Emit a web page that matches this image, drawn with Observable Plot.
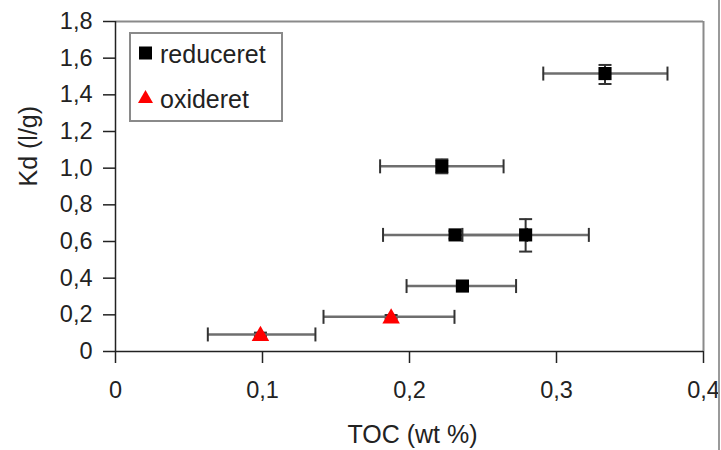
<!DOCTYPE html>
<html>
<head>
<meta charset="utf-8">
<script src="https://cdn.jsdelivr.net/npm/d3@7"></script>
<script src="https://cdn.jsdelivr.net/npm/@observablehq/plot@0.6"></script>
<style>
  body { margin: 0; background: #fff; }
  #wrap { position: relative; width: 721px; height: 450px; overflow: hidden; font-family: "Liberation Sans", Arial, sans-serif; }
  #edge { position: absolute; left: 718px; top: 0; width: 2px; height: 450px; background: #9a9a9a; }
  #legend { position: absolute; left: 129px; top: 32px; width: 150px; height: 86px; border: 2px solid #8a8a8a; background: #fff; }
  .lrow { position: absolute; left: 0; height: 30px; width: 150px; }
  .lrow svg { position: absolute; left: 5px; top: 0; }
  .lrow span { position: absolute; left: 29px; top: 1px; font-size: 25px; line-height: 28px; color: #222; }
</style>
</head>
<body>
<div id="wrap"></div>
<script>
// ---- data ----
const seriesNames = ["reduceret", "oxideret"];
const seriesColors = ["#000000", "#ff0000"];

// reduceret
const redX    = [0.333, 0.222, 0.231, 0.279, 0.236];
const redXmin = [0.291, 0.180, 0.182, 0.236, 0.198];
const redXmax = [0.3755, 0.264, 0.280, 0.322, 0.2725];
const redY    = [1.516, 1.010, 0.636, 0.636, 0.357];
const redYmin = [1.459, 0.972, 0.616, 0.545, 0.347];
const redYmax = [1.563, 1.048, 0.656, 0.722, 0.367];

// oxideret
const oxX    = [0.0986, 0.1875];
const oxXmin = [0.0628, 0.1415];
const oxXmax = [0.136, 0.2306];
const oxY    = [0.093, 0.189];
const oxYmin = [0.083, 0.179];
const oxYmax = [0.103, 0.199];

const xTicks = [0, 0.1, 0.2, 0.3, 0.4];
const yTicks = [0, 0.2, 0.4, 0.6, 0.8, 1.0, 1.2, 1.4, 1.6, 1.8];
const xTitle = "TOC (wt %)";
const yTitle = "Kd (l/g)";

// ---- build tables ----
const red = redX.map((x, i) => ({x, xmin: redXmin[i], xmax: redXmax[i], y: redY[i], ymin: redYmin[i], ymax: redYmax[i]}));
const ox = oxX.map((x, i) => ({x, xmin: oxXmin[i], xmax: oxXmax[i], y: oxY[i], ymin: oxYmin[i], ymax: oxYmax[i]}));
const all = red.concat(ox);

const fmt = d => d === 0 ? "0" : d.toFixed(1).replace(".", ",");

const capV = {draw(c) { c.moveTo(0, -7); c.lineTo(0, 7); }};
const capH = {draw(c) { c.moveTo(-6.5, 0); c.lineTo(6.5, 0); }};

const chart = Plot.plot({
  width: 721,
  height: 450,
  marginLeft: 115,
  marginRight: 18,
  marginTop: 21,
  marginBottom: 99,
  style: {fontFamily: "Liberation Sans, Arial, sans-serif", color: "#222", background: "white"},
  x: {domain: [0, 0.4]},
  y: {domain: [0, 1.8]},
  marks: [
    // frame top and right (gray)
    Plot.ruleY([1.8], {stroke: "#8a8a8a", strokeWidth: 2}),
    Plot.ruleX([0.4], {y1: 0, y2: 1.8, stroke: "#8a8a8a", strokeWidth: 2}),
    // axes
    Plot.axisX({ticks: xTicks, tickFormat: fmt, tickSize: 12, tickPadding: 18, fontSize: 23.5, label: null, stroke: "#222", strokeWidth: 1.5}),
    Plot.axisY({ticks: yTicks, tickFormat: fmt, tickSize: 12, tickPadding: 11, fontSize: 23.5, label: null, stroke: "#222", strokeWidth: 1.5}),
    Plot.ruleX([0], {stroke: "#222", strokeWidth: 1.5}),
    Plot.ruleY([0], {stroke: "#222", strokeWidth: 1.5}),
    // axis titles
    Plot.text([xTitle], {frameAnchor: "bottom", dy: 91, dx: 3, fontSize: 25, fill: "#222"}),
    Plot.text([yTitle], {frameAnchor: "left", rotate: -90, dx: -87, fontSize: 25, fill: "#222"}),
    // horizontal error bars
    Plot.ruleY(all, {y: "y", x1: "xmin", x2: "xmax", stroke: "#6e6e6e", strokeWidth: 2.5}),
    Plot.dot(all, {x: "xmin", y: "y", symbol: capV, stroke: "#333", strokeWidth: 2, fill: "none"}),
    Plot.dot(all, {x: "xmax", y: "y", symbol: capV, stroke: "#333", strokeWidth: 2, fill: "none"}),
    // vertical error bars
    Plot.ruleX(all, {x: "x", y1: "ymin", y2: "ymax", stroke: "#333", strokeWidth: 2}),
    Plot.dot(all, {x: "x", y: "ymin", symbol: capH, stroke: "#333", strokeWidth: 2, fill: "none"}),
    Plot.dot(all, {x: "x", y: "ymax", symbol: capH, stroke: "#333", strokeWidth: 2, fill: "none"}),
    // markers
    Plot.dot(red, {x: "x", y: "y", symbol: "square", r: 7.4, fill: seriesColors[0], stroke: "none"}),
    Plot.dot(ox, {x: "x", y: "y", symbol: "triangle", r: 6.5, dy: 1.5, fill: seriesColors[1], stroke: "none"})
  ]
});

const wrap = document.getElementById("wrap");
wrap.appendChild(chart);

// legend
const legend = document.createElement("div");
legend.id = "legend";
const sq = '<svg width="20" height="28"><rect x="3" y="7.5" width="13" height="13" fill="' + seriesColors[0] + '"/></svg>';
const tri = '<svg width="20" height="28"><polygon points="9.5,6 17,19 2,19" fill="' + seriesColors[1] + '"/></svg>';
legend.innerHTML =
  '<div class="lrow" style="top:5px">' + sq + '<span>' + seriesNames[0] + '</span></div>' +
  '<div class="lrow" style="top:50px">' + tri + '<span>' + seriesNames[1] + '</span></div>';
wrap.appendChild(legend);

const edge = document.createElement("div");
edge.id = "edge";
wrap.appendChild(edge);
</script>
</body>
</html>
